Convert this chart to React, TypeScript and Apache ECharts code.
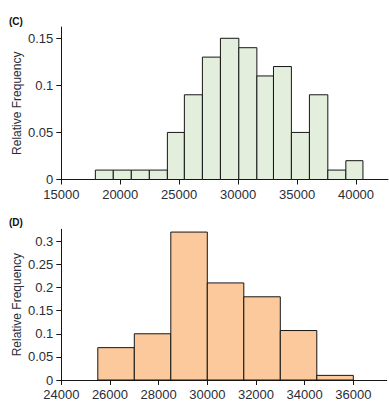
import React, { useEffect, useRef } from "react";
import * as echarts from "echarts";

// Panel C histogram
const cEdges = [17890, 19410, 20940, 22470, 24000, 25440, 26970, 28500, 30060, 31590, 33000, 34520, 36050, 37610, 39140, 40590];
const cFreq = [0.01, 0.01, 0.01, 0.01, 0.05, 0.09, 0.13, 0.15, 0.14, 0.11, 0.12, 0.05, 0.09, 0.01, 0.02];
const cXTicks = [15000, 20000, 25000, 30000, 35000, 40000];
const cYTicks = [0, 0.05, 0.1, 0.15];

// Panel D histogram
const dEdges = [25500, 27000, 28500, 30000, 31500, 33000, 34500, 36000];
const dFreq = [0.07, 0.1, 0.32, 0.21, 0.18, 0.107, 0.01];
const dXTicks = [24000, 26000, 28000, 30000, 32000, 34000, 36000];
const dYTicks = [0, 0.05, 0.1, 0.15, 0.2, 0.25, 0.3];

const FONT = "Liberation Sans, Arial, sans-serif";
const TEXT = "#2a2d38";
const LINE = "#161616";

function toBins(edges: number[], freq: number[]) {
  return freq.map((f, i) => [edges[i], edges[i + 1], f]);
}

function makeRender(fill: string) {
  return (params: any, api: any) => {
    const x0 = api.value(0);
    const x1 = api.value(1);
    const y = api.value(2);
    const p0 = api.coord([x0, y]);
    const p1 = api.coord([x1, 0]);
    return {
      type: "rect",
      shape: { x: p0[0], y: p0[1], width: p1[0] - p0[0], height: p1[1] - p0[1] },
      style: { fill, stroke: LINE, lineWidth: 1 },
    };
  };
}

const axisLine = { show: true, lineStyle: { color: LINE, width: 1 } };
const labelStyle = {
  color: TEXT, fontFamily: FONT, fontSize: 13, margin: 8,
  formatter: (v: number) => String(v),
};

export default function App() {
  const ref = useRef<HTMLDivElement>(null);
  useEffect(() => {
    if (!ref.current) return;
    const chart = echarts.init(ref.current, undefined, { renderer: "svg" });
    chart.setOption({
      animation: false,
      backgroundColor: "#ffffff",
      grid: [
        { left: 61.3, top: 27, right: 1, height: 152.5 },
        { left: 61.3, top: 229.3, right: 2.3, height: 150.7 },
      ],
      graphic: [
        { type: "text", left: 9, top: 16, style: { text: "(C)", font: `bold 10px ${FONT}`, fill: "#111" } },
        { type: "text", left: 9, top: 217.5, style: { text: "(D)", font: `bold 10px ${FONT}`, fill: "#111" } },
      ],
      xAxis: [
        {
          type: "value", gridIndex: 0, min: 15000, max: 42715,
          axisLine, splitLine: { show: false },
          axisTick: { show: true, length: 5, customValues: cXTicks, lineStyle: { color: LINE } },
          axisLabel: { ...labelStyle, customValues: cXTicks },
        },
        {
          type: "value", gridIndex: 1, min: 24000, max: 37372,
          axisLine, splitLine: { show: false },
          axisTick: { show: true, length: 5, customValues: dXTicks, lineStyle: { color: LINE } },
          axisLabel: { ...labelStyle, customValues: dXTicks },
        },
      ],
      yAxis: [
        {
          type: "value", gridIndex: 0, min: 0, max: 0.162,
          axisLine, splitLine: { show: false },
          axisTick: { show: true, length: 5, customValues: cYTicks, lineStyle: { color: LINE } },
          axisLabel: { ...labelStyle, customValues: cYTicks },
          name: "Relative Frequency", nameLocation: "middle", nameGap: 38, nameMoveOverlap: false,
          nameTextStyle: { color: TEXT, fontFamily: FONT, fontSize: 12 },
        },
        {
          type: "value", gridIndex: 1, min: 0, max: 0.326,
          axisLine, splitLine: { show: false },
          axisTick: { show: true, length: 5, customValues: dYTicks, lineStyle: { color: LINE } },
          axisLabel: { ...labelStyle, customValues: dYTicks },
          name: "Relative Frequency", nameLocation: "middle", nameGap: 38, nameMoveOverlap: false,
          nameTextStyle: { color: TEXT, fontFamily: FONT, fontSize: 12 },
        },
      ],
      series: [
        {
          type: "custom", xAxisIndex: 0, yAxisIndex: 0,
          renderItem: makeRender("#e3efdc"),
          encode: { x: [0, 1], y: 2 },
          data: toBins(cEdges, cFreq),
        },
        {
          type: "custom", xAxisIndex: 1, yAxisIndex: 1,
          renderItem: makeRender("#fbc99b"),
          encode: { x: [0, 1], y: 2 },
          data: toBins(dEdges, dFreq),
        },
      ],
    });
    return () => chart.dispose();
  }, []);
  return (
    <div
      ref={ref}
      style={{ position: "fixed", left: 0, top: 0, width: 389, height: 410, background: "#fff" }}
    />
  );
}
